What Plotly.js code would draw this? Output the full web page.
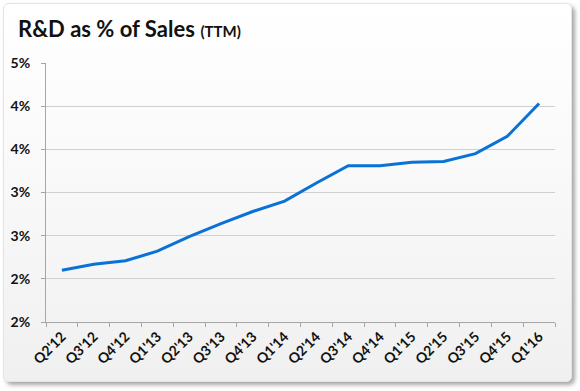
<!DOCTYPE html>
<html>
<head>
<meta charset="utf-8">
<script src="https://cdn.plot.ly/plotly-3.0.1.min.js"></script>
<style>
  html, body { margin: 0; padding: 0; background: #ffffff; width: 580px; height: 391px; overflow: hidden; }
  #card {
    position: absolute; left: 3px; top: 3px; width: 569px; height: 379px;
    border-radius: 6px;
    background: linear-gradient(to bottom, #ffffff 0%, #fafafa 40%, #f0f0f0 100%);
    box-shadow: 3px 3px 4px rgba(0,0,0,0.35);
    border: 1px solid #e4e4e4;
    box-sizing: border-box;
  }
  #chart { position: absolute; left: 0; top: 0; width: 580px; height: 391px; }
</style>
</head>
<body>
<div id="card"></div>
<div id="chart"></div>
<script>
const quarters = ["Q2'12","Q3'12","Q4'12","Q1'13","Q2'13","Q3'13","Q4'13","Q1'14",
                  "Q2'14","Q3'14","Q4'14","Q1'15","Q2'15","Q3'15","Q4'15","Q1'16"];
const rdPct = [2.10, 2.17, 2.21, 2.32, 2.49, 2.64, 2.78, 2.90,
               3.11, 3.31, 3.31, 3.35, 3.36, 3.45, 3.65, 4.03];
const yTickVals = [1.5, 2.0, 2.5, 3.0, 3.5, 4.0, 4.5];
const yTickText = ["2%", "2%", "3%", "3%", "4%", "4%", "5%"];

const fontFam = "Lato, 'Open Sans', sans-serif";

const trace = {
  x: quarters,
  y: rdPct,
  type: "scatter",
  mode: "lines",
  line: { color: "#0a72d6", width: 3 },
  hoverinfo: "skip"
};

const layout = {
  width: 580, height: 391,
  paper_bgcolor: "rgba(0,0,0,0)",
  plot_bgcolor: "rgba(0,0,0,0)",
  margin: { l: 46, r: 25, t: 63, b: 69 },
  showlegend: false,
  title: {
    text: "<b>R&D as % of Sales</b> <b><span style='font-size:15px'>(TTM)</span></b>",
    font: { family: fontFam, size: 22, color: "#111111" },
    x: 18 / 580, xanchor: "left", xref: "container",
    y: 1 - 29 / 391, yanchor: "middle", yref: "container"
  },
  xaxis: {
    type: "category",
    tickangle: -45,
    tickson: "boundaries",
    ticks: "outside", ticklen: 4, tickcolor: "#a6a6a6", tickwidth: 1,
    showline: true, linecolor: "#a6a6a6", linewidth: 1,
    showgrid: false,
    tickfont: { family: fontFam, size: 14, color: "#111111", weight: 700 },
    range: [-0.5, 15.5],
    fixedrange: true
  },
  yaxis: {
    range: [1.5, 4.5],
    tickvals: yTickVals,
    ticktext: yTickText,
    ticks: "outside", ticklen: 4, tickcolor: "#a6a6a6", tickwidth: 1,
    showline: true, linecolor: "#a6a6a6", linewidth: 1,
    showgrid: true, gridcolor: "#d0d0d0", gridwidth: 1,
    zeroline: false,
    tickfont: { family: fontFam, size: 14, color: "#111111", weight: 700 },
    ticklabelstandoff: 8,
    fixedrange: true
  }
};

Plotly.newPlot("chart", [trace], layout, { displayModeBar: false, staticPlot: true });
</script>
</body>
</html>
